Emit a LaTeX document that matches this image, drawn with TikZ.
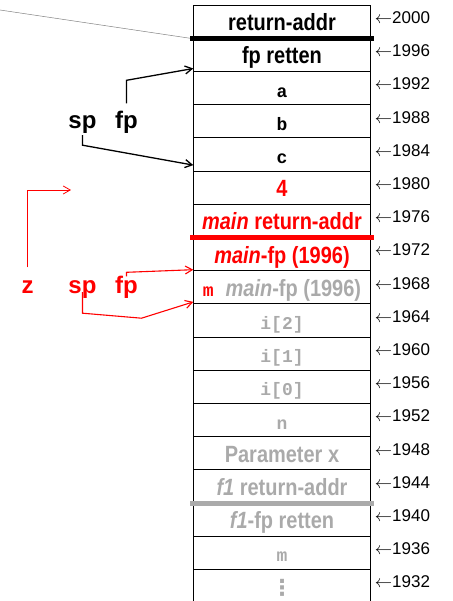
\documentclass[tikz,border=0pt]{standalone}
\usepackage{fontspec}
\setmainfont{Liberation Sans}
\setmonofont{Liberation Mono}
\newfontfamily\narrowsf{Liberation Sans}[FakeStretch=0.85]
\newfontfamily\dotsfont{DejaVu Sans}
\usetikzlibrary{positioning, arrows.meta}
\definecolor{faded}{RGB}{170,170,170}
\definecolor{hairline}{RGB}{130,130,130}
\tikzset{
	cell/.style={draw, rectangle, line width=1pt, inner sep=0pt, outer sep=0pt, minimum width=177.4pt, minimum height=33.2pt, text height=21pt, text depth=3pt, font=\narrowsf\bfseries\fontsize{23.5}{24}\selectfont},
	ttcell/.style={cell, font=\ttfamily\bfseries\fontsize{18}{18}\selectfont},
	addr/.style={inner sep=0pt, font=\fontsize{17}{17}\selectfont},
	% labels sp, fp, z left of the stack
	ptr/.style={anchor=base, inner sep=1pt, text height=17.5pt, text depth=5pt, font=\bfseries\fontsize{24}{24}\selectfont},
	sep/.style={line width=5pt}
}

\begin{document}
\begin{tikzpicture}[x=1pt, y=-1pt]
	\useasboundingbox (0,0) rectangle (452,601);
	
	\node (r2000) [cell] at (282,21.7) {return-addr};
	\node (r1996) [cell, below=0pt of r2000] {fp retten};
	\node (r1992) [ttcell, below=0pt of r1996] {a};
	\node (r1988) [ttcell, below=0pt of r1992] {b};
	\node (r1984) [ttcell, below=0pt of r1988] {c};
	\node (r1980) [cell, text=red, below=0pt of r1984] {4};
	\node (r1976) [cell, text=red, below=0pt of r1980] {\textit{main} return-addr};
	\node (r1972) [cell, text=red, below=0pt of r1976] {\textit{main}-fp (1996)};
	\node (r1968) [cell, text=faded, below=0pt of r1972] {{\ttfamily\fontsize{18}{18}\selectfont\color{red}m}\hspace{12pt}\textit{main}-fp (1996)\hspace{10pt}};
	\node (r1964) [ttcell, text=faded, below=0pt of r1968] {i[2]};
	\node (r1960) [ttcell, text=faded, below=0pt of r1964] {i[1]};
	\node (r1956) [ttcell, text=faded, below=0pt of r1960] {i[0]};
	\node (r1952) [ttcell, text=faded, below=0pt of r1956] {n};
	\node (r1948) [cell, text=faded, below=0pt of r1952] {Parameter x};
	\node (r1944) [cell, text=faded, below=0pt of r1948] {\textit{f1} return-addr};
	\node (r1940) [cell, text=faded, below=0pt of r1944] {\textit{f1}-fp retten};
	\node (r1936) [ttcell, text=faded, below=0pt of r1940] {m};
	\node (r1932) [cell, text=faded, below=0pt of r1936] {{\dotsfont\fontsize{22}{22}\selectfont ⋮}};
	
	% addresses
	\node (a2000) [addr, right=4pt of r2000.east, yshift=4pt] {$\leftarrow$2000};
	\node (a1996) [addr, right=4pt of r1996.east, yshift=4pt] {$\leftarrow$1996};
	\node (a1992) [addr, right=4pt of r1992.east, yshift=4pt] {$\leftarrow$1992};
	\node (a1988) [addr, right=4pt of r1988.east, yshift=4pt] {$\leftarrow$1988};
	\node (a1984) [addr, right=4pt of r1984.east, yshift=4pt] {$\leftarrow$1984};
	\node (a1980) [addr, right=4pt of r1980.east, yshift=4pt] {$\leftarrow$1980};
	\node (a1976) [addr, right=4pt of r1976.east, yshift=4pt] {$\leftarrow$1976};
	\node (a1972) [addr, right=4pt of r1972.east, yshift=4pt] {$\leftarrow$1972};
	\node (a1968) [addr, right=4pt of r1968.east, yshift=4pt] {$\leftarrow$1968};
	\node (a1964) [addr, right=4pt of r1964.east, yshift=4pt] {$\leftarrow$1964};
	\node (a1960) [addr, right=4pt of r1960.east, yshift=4pt] {$\leftarrow$1960};
	\node (a1956) [addr, right=4pt of r1956.east, yshift=4pt] {$\leftarrow$1956};
	\node (a1952) [addr, right=4pt of r1952.east, yshift=4pt] {$\leftarrow$1952};
	\node (a1948) [addr, right=4pt of r1948.east, yshift=4pt] {$\leftarrow$1948};
	\node (a1944) [addr, right=4pt of r1944.east, yshift=4pt] {$\leftarrow$1944};
	\node (a1940) [addr, right=4pt of r1940.east, yshift=4pt] {$\leftarrow$1940};
	\node (a1936) [addr, right=4pt of r1936.east, yshift=4pt] {$\leftarrow$1936};
	\node (a1932) [addr, right=4pt of r1932.east, yshift=4pt] {$\leftarrow$1932};
	
	\node (spA) [ptr] at (82.5,129) {sp};
	\node (fpA) [ptr] at (126.5,129) {fp};
	\node (zB) [ptr, red] at (27.5,293) {z};
	\node (spB) [ptr, red] at (82.5,293) {sp};
	\node (fpB) [ptr, red] at (126.5,293) {fp};
	
	\coordinate (fpAtip) at ([yshift=3pt]r1992.north west);
	\coordinate (spAtip) at ([yshift=6pt]r1980.north west);
	\coordinate (fpBtip) at ([yshift=1pt]r1968.north west);
	\coordinate (spBtip) at ([yshift=2pt]r1964.north west);
	\coordinate (zend) at (71,190);
	\coordinate (lineend) at (0,10);
	
	\draw[hairline, line width=0.5pt] (lineend) -- ([xshift=-3pt]r1996.north west);
	
	\draw[sep] ([xshift=-3pt]r1996.north west) -- ([xshift=3pt]r1996.north east);
	\draw[sep, red] ([xshift=-3pt]r1972.north west) -- ([xshift=3pt]r1972.north east);
	\draw[sep, faded] ([xshift=-3pt]r1940.north west) -- ([xshift=3pt]r1940.north east);
	
	\begin{scope}[line width=1.3pt, black, ->, >={Straight Barb[length=7pt, width=8pt]}]
		\draw ([yshift=7pt]fpA.north) -- ++(0,-23) -- (fpAtip);
		\draw (spA.south) -- ++(0,10) -- (spAtip);
	\end{scope}
	
	\begin{scope}[line width=1.1pt, red, ->, >={Straight Barb[length=7pt, width=8pt]}]
		\draw ([yshift=-2pt]fpB.north) -- ++(0,-4) -- (fpBtip);
		\draw ([yshift=7pt]spB.south) -- ++(0,21) -- ++(59,5) -- (spBtip);
		\draw[line width=0.8pt] ([yshift=7pt]zB.north) |- (zend);
	\end{scope}
\end{tikzpicture}
\end{document}
